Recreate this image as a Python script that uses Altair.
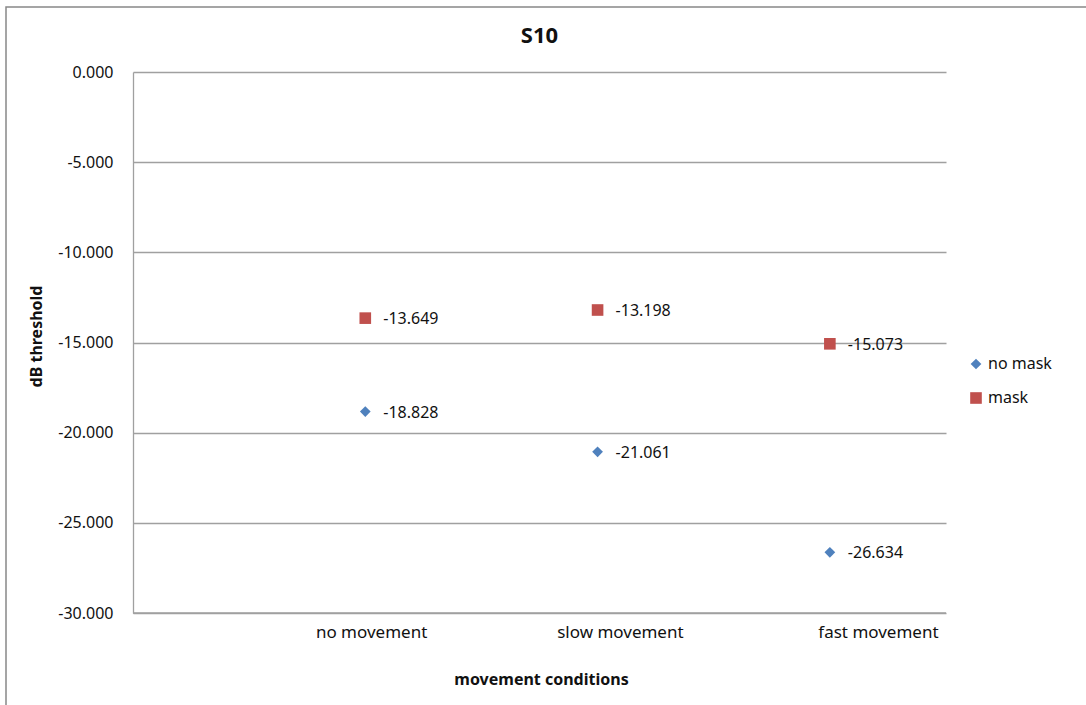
import altair as alt
import pandas as pd

categories = ["no movement", "slow movement", "fast movement"]
cat_index = [1, 2, 3]
no_mask = [-18.828, -21.061, -26.634]
mask = [-13.649, -13.198, -15.073]
series_names = ["no mask", "mask"]
y_ticks = [0, -5, -10, -15, -20, -25, -30]
chart_title = "S10"

# positions (in x units) where the category labels sit under the axis
label_anchor = [1.025, 2.096, 3.207]

rows = []
for i, c in enumerate(categories):
    rows.append({"idx": cat_index[i], "cat": c, "series": "no mask", "value": no_mask[i]})
    rows.append({"idx": cat_index[i], "cat": c, "series": "mask", "value": mask[i]})
df = pd.DataFrame(rows)

FONT = "Noto Sans"
W, H = 813, 541

xscale = alt.Scale(domain=[0, 3.5], nice=False, zero=False)
yscale = alt.Scale(domain=[-30, 0], nice=False)

base = alt.Chart(df)

points = base.mark_point(filled=True, opacity=1, strokeWidth=0).encode(
    x=alt.X("idx:Q", scale=xscale,
            axis=alt.Axis(values=label_anchor, grid=False, ticks=False, domain=False,
                          labelExpr="['no movement','slow movement','fast movement'][floor(datum.value)-1]",
                          labelFontSize=17, labelFont=FONT, labelColor="#111",
                          labelPadding=11, labelFlush=False,
                          title="movement conditions", titleFont=FONT, titleFontSize=16,
                          titleFontWeight="bold", titleColor="#111",
                          titleX=408, titleY=66, titleBaseline="middle")),
    y=alt.Y("value:Q", scale=yscale,
            axis=alt.Axis(values=y_ticks, grid=True, gridColor="#a0a0a0",
                          labelExpr="replace(format(datum.value, '.3f'), '\u2212', '-')",
                          gridWidth=1.3, ticks=False, domain=True, domainColor="#a0a0a0",
                          domainWidth=1.3, labelFontSize=16, labelFont=FONT,
                          labelColor="#111", labelPadding=20,
                          title="dB threshold", titleFont=FONT, titleFontSize=16,
                          titleFontWeight="bold", titleColor="#111",
                          titleX=-97, titleY=264, titleBaseline="middle")),
    color=alt.Color("series:N",
                    scale=alt.Scale(domain=series_names, range=["#4F81BD", "#C0504D"]),
                    legend=alt.Legend(title=None, orient="none", legendX=835, legendY=284,
                                      labelFont=FONT, labelFontSize=16, labelColor="#111",
                                      rowPadding=18, symbolSize=110, labelOffset=4,
                                      symbolStrokeWidth=0)),
    shape=alt.Shape("series:N",
                    scale=alt.Scale(domain=series_names, range=["diamond", "square"]),
                    legend=alt.Legend(title=None, orient="none", legendX=835, legendY=284)),
    size=alt.Size("series:N",
                  scale=alt.Scale(domain=series_names, range=[115, 135]),
                  legend=None),
)

labels = base.transform_calculate(
    lab="replace(format(datum.value, '.3f'), '\u2212', '-')"
).mark_text(align="left", baseline="middle", dx=18, dy=1,
            font=FONT, fontSize=16, color="#111").encode(
    x=alt.X("idx:Q", scale=xscale),
    y=alt.Y("value:Q", scale=yscale),
    text=alt.Text("lab:N"),
)

bottom_line = alt.Chart(pd.DataFrame({"v": [-30]})).mark_rule(color="#a0a0a0", strokeWidth=1.3).encode(
    y=alt.Y("v:Q", scale=yscale), x=alt.value(0), x2=alt.value(W)
)

title = alt.Chart(pd.DataFrame({"t": [chart_title]})).mark_text(
    font=FONT, fontSize=22, fontWeight="bold", color="#111", baseline="middle", align="center"
).encode(text="t:N", x=alt.value(W / 2), y=alt.value(-36))

frame = alt.Chart(pd.DataFrame({"v": [0]})).mark_rect(
    fill=None, stroke="#888888", strokeWidth=1.5
).encode(x=alt.value(-127), x2=alt.value(1100), y=alt.value(-65), y2=alt.value(700))

chart = alt.layer(frame, bottom_line, points, labels, title).properties(
    width=W, height=H,
    autosize=alt.AutoSizeParams(type="none"),
    padding={"left": 133, "top": 72, "right": 140, "bottom": 92},
    background="white",
).configure_view(stroke=None).resolve_scale(x="shared", y="shared")

chart.save("out.html", embed_options={"renderer": "svg", "actions": False})
